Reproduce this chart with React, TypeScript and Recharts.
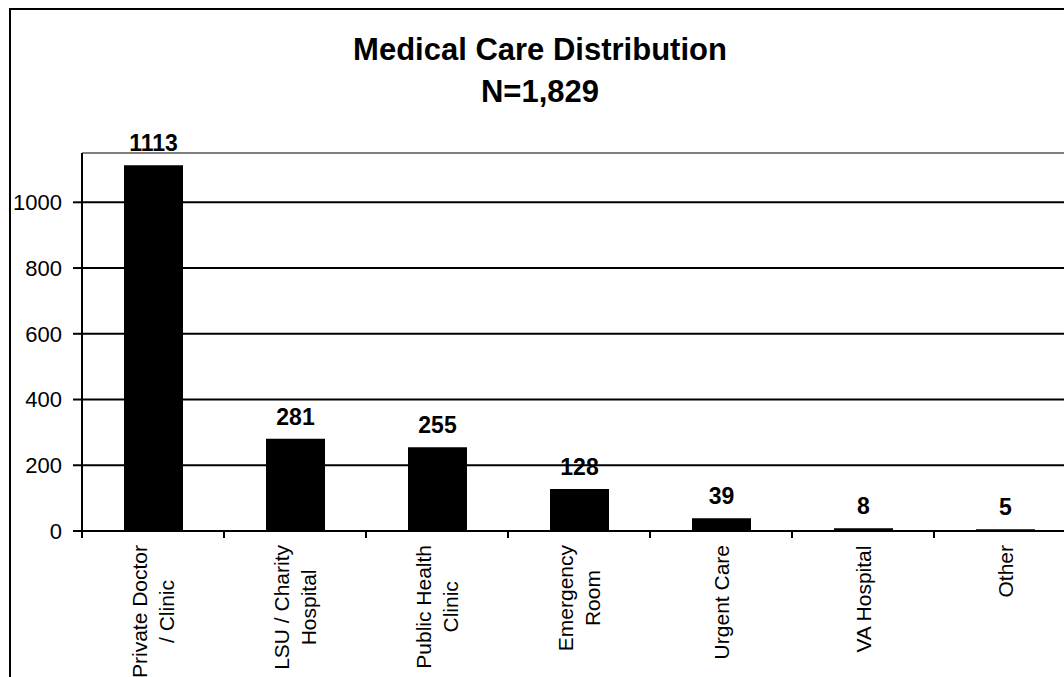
import React from 'react';
import {
  BarChart,
  Bar,
  XAxis,
  YAxis,
  CartesianGrid,
  ReferenceLine,
  LabelList,
} from 'recharts';

const categories = [
  'Private Doctor\n/ Clinic',
  'LSU / Charity\nHospital',
  'Public Health\nClinic',
  'Emergency\nRoom',
  'Urgent Care',
  'VA Hospital',
  'Other',
];
const counts = [1113, 281, 255, 128, 39, 8, 5];
const yTicks = [0, 200, 400, 600, 800, 1000];
const yMax = 1150;
const titleLines = ['Medical Care Distribution', 'N=1,829'];

const data = categories.map((name, i) => ({ name, count: counts[i] }));

const FONT = '"Liberation Sans", Arial, Helvetica, sans-serif';

const measureCtx =
  typeof document !== 'undefined' ? document.createElement('canvas').getContext('2d') : null;

function textWidth(s: string, size: number) {
  if (!measureCtx) return s.length * size * 0.52;
  measureCtx.font = `${size}px ${FONT}`;
  return measureCtx.measureText(s).width;
}

// vertical, multi-line category label; lines centred on each other,
// the longest line ends just under the axis. Tick marks sit on the
// band edges (half a band either side of the label).
const CategoryTick = (props: any) => {
  const { x, y, payload, index } = props;
  const half = payload.offset ?? 0;
  const size = 21;
  const lines = String(payload.value).split('\n');
  const longest = Math.max(...lines.map((l) => textWidth(l, size)));
  return (
    <g>
      <line x1={x - half} x2={x - half} y1={y} y2={y + 7} stroke="#000" strokeWidth={2} />
      {index === categories.length - 1 && (
        <line x1={x + half} x2={x + half} y1={y} y2={y + 7} stroke="#000" strokeWidth={2} />
      )}
      <g transform={`translate(${x},${y + 14}) rotate(-90)`}>
        {lines.map((line, i) => (
          <text
            key={i}
            x={-longest / 2}
            y={(i - (lines.length - 1) / 2) * 27}
            textAnchor="middle"
            dominantBaseline="central"
            fontSize={size}
            fontFamily={FONT}
            fill="#000"
          >
            {line}
          </text>
        ))}
      </g>
    </g>
  );
};

export default function App() {
  return (
    <div
      style={{
        position: 'fixed',
        left: 0,
        top: 0,
        width: 1064,
        height: 677,
        overflow: 'hidden',
        background: '#fff',
      }}
    >
      <div
        style={{
          position: 'absolute',
          left: 9,
          top: 8,
          width: 1100,
          height: 720,
          border: '2px solid #000',
          boxSizing: 'border-box',
        }}
      >
        <div
          style={{
            position: 'absolute',
            left: 0,
            top: 19,
            width: 1058,
            textAlign: 'center',
            fontFamily: FONT,
            fontWeight: 'bold',
            fontSize: 31,
            lineHeight: '42px',
            color: '#000',
          }}
        >
          {titleLines.map((t) => (
            <div key={t}>{t}</div>
          ))}
        </div>
        <div style={{ position: 'absolute', left: 0, top: 0 }}>
          <BarChart
            width={1075}
            height={700}
            data={data}
            margin={{ top: 143, right: 10, left: 0, bottom: 0 }}
          >
            <XAxis
              dataKey="name"
              interval={0}
              height={179}
              tickSize={0}
              tickMargin={0}
              tickLine={false}
              axisLine={{ stroke: '#000', strokeWidth: 2 }}
              tick={<CategoryTick />}
            />
            <YAxis
              width={71}
              domain={[0, yMax]}
              ticks={yTicks}
              interval={0}
              allowDataOverflow
              tickSize={9}
              tickMargin={11}
              axisLine={{ stroke: '#000', strokeWidth: 2 }}
              tickLine={{ stroke: '#000', strokeWidth: 2 }}
              tick={{ fontSize: 22, fill: '#000', fontFamily: FONT }}
            />
            <CartesianGrid vertical={false} stroke="#000" strokeWidth={2} />
            <ReferenceLine y={yMax} stroke="#808080" strokeWidth={2} />
            <Bar dataKey="count" fill="#000" barSize={59} isAnimationActive={false}>
              <LabelList
                dataKey="count"
                position="top"
                offset={14}
                fill="#000"
                fontSize={23}
                fontWeight="bold"
                fontFamily={FONT}
              />
            </Bar>
          </BarChart>
        </div>
      </div>
    </div>
  );
}
